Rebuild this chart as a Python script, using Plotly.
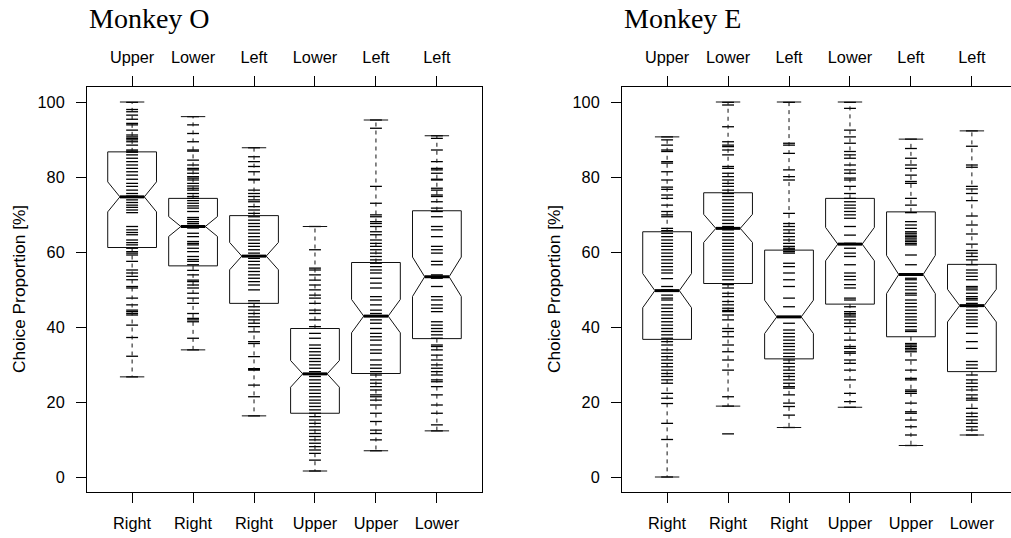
import plotly.graph_objects as go

# ---------------- data ----------------
positions = [1, 2, 3, 4, 5, 6]
bottom_labels = ["Right", "Right", "Right", "Upper", "Upper", "Lower"]
top_labels = ["Upper", "Lower", "Left", "Lower", "Left", "Left"]
y_ticks = [0, 20, 40, 60, 80, 100]

# Monkey O box statistics
o_upper = [100.0, 96.1, 87.8, 66.8, 95.2, 91.0]
o_q3 = [86.7, 74.3, 69.7, 39.6, 57.2, 71.0]
o_notch_hi = [78.7, 69.4, 62.3, 31.0, 47.4, 58.8]
o_median = [74.7, 66.8, 58.9, 27.5, 42.9, 53.4]
o_notch_lo = [70.7, 64.1, 55.0, 23.9, 38.5, 48.3]
o_q1 = [61.2, 56.3, 46.3, 17.0, 27.6, 36.9]
o_lower = [26.7, 33.9, 16.3, 1.6, 7.0, 12.3]

# Monkey E box statistics
e_upper = [90.7, 100.0, 100.0, 100.0, 90.1, 92.3]
e_q3 = [65.4, 75.8, 60.5, 74.3, 70.7, 56.7]
e_notch_hi = [54.3, 70.0, 47.2, 66.6, 59.2, 49.9]
e_median = [49.7, 66.3, 42.7, 62.1, 54.0, 45.7]
e_notch_lo = [45.2, 62.5, 38.3, 57.7, 49.0, 41.2]
e_q1 = [36.7, 51.6, 31.5, 46.1, 37.4, 28.1]
e_lower = [0.0, 18.9, 13.2, 18.6, 8.4, 11.2]

# individual sessions (choice proportions, %) - Monkey O
o1 = [99.9, 98.0, 97.4, 96.5, 95.4, 94.3, 93.9, 92.5, 91.2, 90.7, 90.3, 89.9, 89.4, 88.5,
      87.2, 86.9, 86.6, 85.9, 85.0, 84.1, 83.2, 82.3, 81.4, 80.5, 79.4, 78.3, 77.5, 76.5,
      75.6, 74.9, 74.6, 73.9, 73.2, 72.5, 71.9, 71.2, 70.5, 66.8, 65.9, 65.2, 64.6, 63.2,
      62.5, 61.9, 61.0, 60.1, 59.7, 59.2, 57.5, 55.2, 54.4, 53.5, 52.6, 50.8, 50.4, 47.7,
      45.9, 44.5, 44.1, 43.6, 43.2, 40.5, 37.2, 32.2, 26.7]
o2 = [96.1, 93.9, 91.6, 89.4, 87.2, 86.9, 84.5, 83.2, 82.3, 81.9, 81.0, 80.1, 79.7, 79.2,
      78.3, 77.6, 77.0, 76.5, 75.6, 74.8, 74.3, 73.7, 73.0, 72.3, 71.7, 70.8, 69.2, 68.7,
      68.1, 67.6, 67.1, 66.8, 66.4, 65.0, 64.1, 62.8, 62.3, 61.9, 61.0, 60.1, 58.8, 58.0,
      57.5, 56.6, 55.1, 53.9, 52.5, 52.1, 51.2, 50.4, 49.0, 47.7, 46.3, 43.6, 42.3, 41.9,
      41.4, 37.0, 33.9]
o3 = [87.8, 85.4, 84.1, 82.8, 81.4, 79.4, 79.2, 76.5, 75.6, 74.8, 73.9, 73.4, 72.1, 71.2,
      70.3, 69.4, 68.5, 67.6, 66.8, 65.9, 65.0, 64.1, 63.2, 62.3, 61.5, 60.6, 59.7, 59.0,
      58.3, 57.5, 56.6, 55.7, 54.8, 53.9, 53.0, 52.1, 51.2, 49.9, 47.0, 46.3, 45.4, 44.5,
      43.6, 42.7, 41.9, 41.0, 40.1, 38.7, 36.1, 35.6, 32.1, 28.9, 28.7, 28.5, 24.5, 21.4,
      16.3]
o4 = [66.8, 60.6, 55.7, 55.2, 53.9, 52.5, 51.2, 49.9, 48.5, 47.7, 46.3, 44.5, 43.6, 41.9,
      40.1, 38.3, 37.0, 35.2, 34.3, 33.4, 32.5, 31.6, 30.8, 29.9, 29.0, 28.1, 27.5, 26.8,
      25.9, 25.0, 24.1, 23.2, 22.3, 21.4, 20.5, 19.7, 18.8, 17.9, 17.0, 16.1, 15.2, 14.3,
      13.4, 12.5, 11.6, 10.8, 9.9, 9.0, 8.1, 7.2, 6.3, 4.5, 1.6]
o5 = [95.2, 93.0, 77.5, 73.0, 69.9, 69.4, 68.1, 67.6, 66.8, 65.4, 64.6, 63.2, 62.3, 61.5,
      60.6, 59.7, 58.8, 57.9, 57.0, 56.1, 55.2, 54.4, 53.0, 51.7, 50.4, 48.1, 47.2, 45.9,
      44.5, 43.6, 42.9, 41.9, 41.0, 39.6, 38.3, 37.4, 36.5, 35.2, 33.9, 33.0, 31.2, 29.9,
      29.0, 28.1, 27.2, 25.9, 25.0, 24.1, 23.2, 21.9, 21.4, 20.5, 19.2, 17.0, 14.8, 12.5,
      11.6, 9.9, 7.0]
o6 = [91.0, 90.3, 87.2, 84.1, 82.3, 81.9, 81.0, 79.4, 79.2, 77.0, 76.5, 75.2, 74.8, 73.4,
      71.7, 70.8, 69.4, 66.8, 65.9, 64.1, 61.5, 60.6, 59.7, 57.5, 56.6, 53.9, 53.5, 53.0,
      50.8, 48.1, 47.2, 45.9, 45.0, 44.1, 41.4, 40.5, 39.6, 38.8, 37.9, 37.0, 35.2, 34.8,
      33.9, 32.5, 31.2, 29.9, 29.0, 28.1, 27.2, 25.9, 25.4, 24.1, 21.9, 19.2, 17.0, 13.9,
      12.3]

# individual sessions - Monkey E
e1 = [90.7, 89.9, 88.5, 87.2, 86.8, 84.1, 83.7, 81.4, 79.2, 77.3, 76.7, 75.2, 74.3, 72.5,
      70.8, 69.9, 69.4, 66.3, 65.7, 65.0, 64.1, 63.2, 62.3, 61.5, 60.6, 59.7, 58.8, 57.9,
      57.0, 56.1, 55.2, 54.4, 52.9, 50.8, 49.9, 48.5, 47.7, 47.2, 45.9, 45.0, 44.1, 43.2,
      42.3, 41.4, 40.5, 39.6, 38.8, 37.9, 37.0, 36.1, 35.2, 33.9, 33.0, 32.1, 31.2, 30.3,
      29.4, 28.5, 27.6, 26.8, 25.9, 25.0, 22.3, 21.0, 19.6, 14.3, 10.0, 0.0]
e2 = [99.9, 99.2, 93.4, 89.4, 88.5, 88.1, 87.2, 85.9, 82.8, 82.3, 81.0, 80.1, 79.2, 78.3,
      77.5, 76.5, 75.6, 74.8, 73.9, 73.0, 72.1, 71.2, 70.3, 69.4, 68.5, 67.6, 66.8, 66.3,
      65.9, 65.0, 64.1, 63.2, 62.3, 61.5, 60.6, 59.7, 58.8, 57.9, 57.0, 56.1, 55.2, 54.4,
      53.5, 52.6, 51.3, 50.4, 49.0, 48.1, 46.8, 45.9, 45.0, 44.4, 44.1, 43.2, 41.9, 39.6,
      38.8, 37.4, 35.2, 33.4, 31.2, 28.5, 21.4, 18.9, 11.5]
e3 = [99.9, 89.0, 88.5, 86.3, 81.9, 80.1, 79.2, 70.3, 67.6, 66.8, 65.9, 65.0, 64.1, 63.2,
      62.3, 61.5, 61.0, 60.6, 60.1, 59.7, 57.0, 56.1, 54.4, 52.6, 50.8, 47.7, 45.4, 42.7,
      41.0, 39.2, 38.3, 37.4, 36.5, 35.6, 34.8, 33.9, 33.0, 32.1, 31.2, 30.3, 29.4, 28.5,
      27.6, 26.8, 25.9, 25.0, 24.1, 23.7, 21.9, 19.7, 18.8, 16.5, 13.2]
e4 = [99.9, 98.3, 92.5, 90.7, 89.0, 86.8, 85.9, 85.0, 83.2, 81.9, 81.0, 79.7, 79.2, 77.5,
      75.6, 74.3, 73.4, 72.5, 71.7, 70.8, 69.9, 69.0, 66.8, 64.5, 62.3, 61.0, 59.7, 58.8,
      56.6, 54.4, 53.5, 52.6, 51.3, 50.4, 47.7, 47.2, 45.4, 44.1, 43.6, 43.2, 42.7, 41.9,
      41.0, 40.1, 38.3, 36.5, 34.8, 34.3, 33.4, 33.0, 31.2, 30.3, 28.5, 25.9, 22.3, 20.1,
      18.6]
e5 = [90.1, 87.6, 85.0, 83.2, 82.3, 80.5, 78.8, 78.3, 74.3, 72.5, 70.5, 68.1, 67.2, 66.3,
      65.4, 65.0, 64.5, 64.1, 63.7, 63.2, 62.8, 62.3, 61.9, 59.2, 56.6, 54.1, 53.0, 52.6,
      51.7, 50.8, 49.9, 49.0, 48.5, 47.2, 46.3, 45.4, 44.5, 43.6, 42.7, 41.9, 41.0, 40.1,
      39.2, 38.8, 35.6, 35.2, 34.8, 34.3, 33.9, 33.4, 31.2, 28.5, 26.3, 25.9, 23.2, 22.8,
      22.3, 19.7, 17.4, 17.0, 15.2, 13.4, 11.2, 8.4]
e6 = [92.3, 88.2, 83.2, 82.6, 77.5, 76.8, 75.6, 73.7, 69.6, 67.2, 64.8, 62.1, 60.4, 59.7,
      58.8, 57.9, 56.6, 55.2, 54.4, 53.5, 52.6, 50.8, 50.4, 49.9, 49.0, 48.1, 47.6, 47.2,
      46.3, 45.4, 44.5, 43.6, 42.7, 41.9, 41.0, 40.1, 38.3, 36.1, 34.3, 30.8, 29.9, 29.0,
      27.2, 25.9, 25.0, 24.1, 23.2, 21.9, 21.0, 20.5, 18.3, 17.0, 16.1, 15.2, 14.3, 13.4,
      12.5, 11.2]

monkey_o_sessions = [o1, o2, o3, o4, o5, o6]
monkey_e_sessions = [e1, e2, e3, e4, e5, e6]

# ---------------- style ----------------
SANS = "Liberation Sans, Arial, Helvetica, sans-serif"
SERIF = "Liberation Serif, Times New Roman, serif"
TICK_SIZE = 16.3
BOX_WIDTH = 0.8
HALF_NOTCH = BOX_WIDTH / 4
CAP_HALF = BOX_WIDTH / 4

fig = go.Figure()


def add_panel(sessions, q1, med, q3, lo, hi, n_lo, n_hi, xa, ya):
    # session dashes
    xs, ys = [], []
    for p, vals in zip(positions, sessions):
        xs += [p] * len(vals)
        ys += vals
    fig.add_trace(go.Scatter(
        x=xs, y=ys, mode="markers", xaxis=xa, yaxis=ya,
        marker=dict(symbol="line-ew", size=8.5, color="black",
                    line=dict(color="black", width=1.3)),
        hoverinfo="skip", showlegend=False))
    # notched boxes
    fig.add_trace(go.Box(
        x=positions, q1=q1, median=med, q3=q3, lowerfence=lo, upperfence=hi,
        notched=True, notchwidth=0.25,
        notchspan=[(h - l) / 2 for h, l in zip(n_hi, n_lo)],
        width=BOX_WIDTH, showwhiskers=False, boxpoints=False,
        fillcolor="rgba(0,0,0,0)", line=dict(color="#111", width=1),
        xaxis=xa, yaxis=ya, hoverinfo="skip", showlegend=False))
    # dashed whiskers
    wx, wy = [], []
    for p, a, b, c, d in zip(positions, q3, hi, q1, lo):
        wx += [p, p, None, p, p, None]
        wy += [a, b, None, c, d, None]
    fig.add_trace(go.Scatter(
        x=wx, y=wy, mode="lines", xaxis=xa, yaxis=ya,
        line=dict(color="#111", width=1, dash="4px,4px"),
        hoverinfo="skip", showlegend=False))
    # staples
    sx, sy = [], []
    for p, b, d in zip(positions, hi, lo):
        sx += [p - CAP_HALF, p + CAP_HALF, None, p - CAP_HALF, p + CAP_HALF, None]
        sy += [b, b, None, d, d, None]
    fig.add_trace(go.Scatter(
        x=sx, y=sy, mode="lines", xaxis=xa, yaxis=ya,
        line=dict(color="#111", width=1),
        hoverinfo="skip", showlegend=False))
    # thick medians
    mx, my = [], []
    for p, m in zip(positions, med):
        mx += [p - HALF_NOTCH, p + HALF_NOTCH, None]
        my += [m, m, None]
    fig.add_trace(go.Scatter(
        x=mx, y=my, mode="lines", xaxis=xa, yaxis=ya,
        line=dict(color="#000", width=3),
        hoverinfo="skip", showlegend=False))


add_panel(monkey_o_sessions, o_q1, o_median, o_q3, o_lower, o_upper,
          o_notch_lo, o_notch_hi, "x", "y")
add_panel(monkey_e_sessions, e_q1, e_median, e_q3, e_lower, e_upper,
          e_notch_lo, e_notch_hi, "x2", "y2")

# dummy traces so the extra frame axes render
fig.add_trace(go.Scatter(x=positions, y=[None] * 6, xaxis="x3", yaxis="y",
                         hoverinfo="skip", showlegend=False))
fig.add_trace(go.Scatter(x=positions, y=[None] * 6, xaxis="x4", yaxis="y2",
                         hoverinfo="skip", showlegend=False))
fig.add_trace(go.Scatter(x=positions, y=[None] * 6, xaxis="x", yaxis="y3",
                         hoverinfo="skip", showlegend=False))
fig.add_trace(go.Scatter(x=positions, y=[None] * 6, xaxis="x2", yaxis="y4",
                         hoverinfo="skip", showlegend=False))

# The original figure is slightly wider than the visible window: the right panel's
# frame sits just past the right edge and is cropped.
W, H = 1017, 538
left_dom = [87 / W, 482 / W]
right_dom = [622 / W, 1017 / W]
x_range = [0.26, 6.74]
y_dom = [(H - 492) / H, (H - 87) / H]
y_range = [-4, 104]

tickfont = dict(family=SANS, size=TICK_SIZE, color="black")
common_x = dict(tickmode="array", tickvals=positions, ticks="outside", ticklen=10,
                tickwidth=1, tickcolor="black", showgrid=False, zeroline=False,
                tickfont=tickfont, fixedrange=True, ticklabelstandoff=6,
                linecolor="black", linewidth=1, range=x_range)
common_y = dict(tickmode="array", tickvals=y_ticks, ticks="outside", ticklen=10,
                tickwidth=1, tickcolor="black", showgrid=False, zeroline=False,
                tickfont=tickfont, range=y_range, domain=y_dom, showline=True,
                linecolor="black", linewidth=1, fixedrange=True, ticklabelstandoff=8)
right_frame = dict(range=y_range, side="right", showline=True, linecolor="black",
                   linewidth=1, ticks="", showticklabels=False, showgrid=False,
                   zeroline=False, fixedrange=True)

fig.update_layout(
    width=W, height=H, autosize=False,
    margin=dict(l=0, r=0, t=0, b=0),
    paper_bgcolor="white", plot_bgcolor="white",
    showlegend=False,
    xaxis=dict(common_x, domain=left_dom, ticktext=bottom_labels, anchor="y",
               showline=True, mirror=False),
    xaxis3=dict(common_x, ticktext=top_labels, overlaying="x", side="top", anchor="y",
                showline=True),
    yaxis=dict(common_y, anchor="x", mirror=False),
    yaxis3=dict(right_frame, overlaying="y", anchor="x"),
    xaxis2=dict(common_x, domain=right_dom, ticktext=bottom_labels, anchor="y2",
                showline=True, mirror=False),
    xaxis4=dict(common_x, ticktext=top_labels, overlaying="x2", side="top",
                anchor="y2", showline=True),
    yaxis2=dict(common_y, anchor="x2", mirror=False),
    yaxis4=dict(right_frame, overlaying="y2", anchor="x2"),
)

annotations = [
    dict(text="Monkey O", x=87 / W, y=1 - 18 / H, xanchor="left", yanchor="middle"),
    dict(text="Monkey E", x=622 / W, y=1 - 18 / H, xanchor="left", yanchor="middle"),
]
for a in annotations:
    fig.add_annotation(xref="paper", yref="paper", showarrow=False,
                       font=dict(family=SERIF, size=28, color="black"), **a)

for xc in [18.5, 553.5]:
    fig.add_annotation(text="Choice Proportion [%]", xref="paper", yref="paper",
                       x=xc / W, y=1 - 289.5 / H, textangle=-90, showarrow=False,
                       xanchor="center", yanchor="middle",
                       font=dict(family=SANS, size=17.3, color="black"))

fig.write_html(
    "out.html",
    post_script="document.documentElement.style.overflow='hidden';"
                "document.body.style.overflow='hidden';",
)
